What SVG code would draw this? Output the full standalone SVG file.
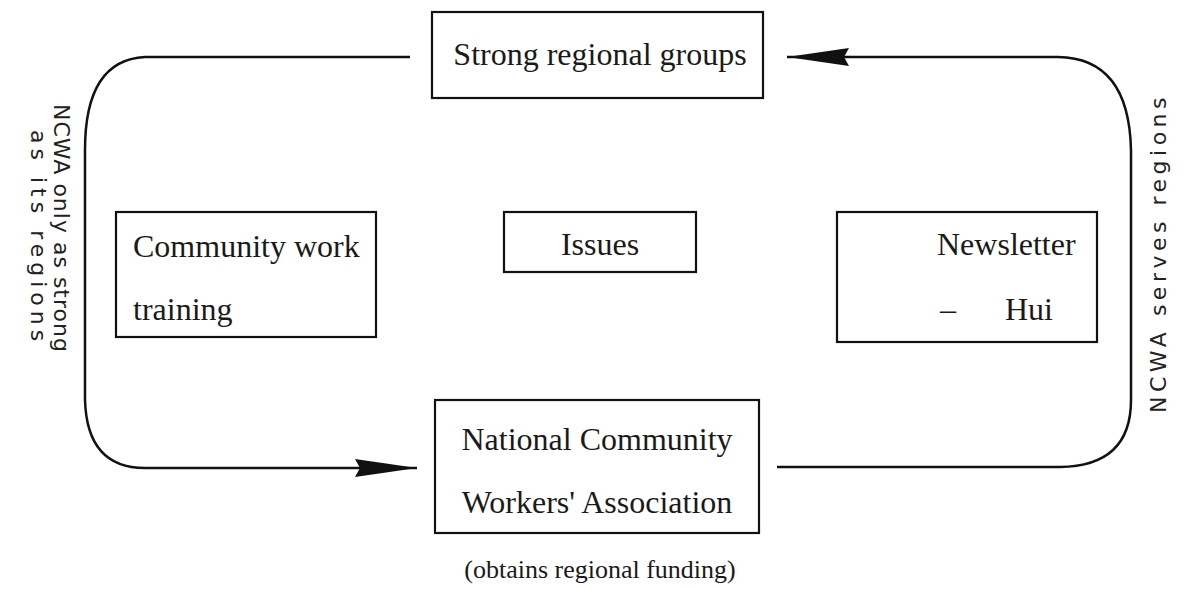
<svg xmlns="http://www.w3.org/2000/svg" width="1189" height="589" viewBox="0 0 1189 589">
<style>
  .box { fill: none; stroke: #111; stroke-width: 2.2; }
  .t { font-family: "Liberation Serif", "Times New Roman", serif; font-size: 32px; fill: #1a1a1a; }
  .small { font-size: 26px; }
  .hand { font-family: "DejaVu Sans", "Liberation Sans", sans-serif; font-size: 22px; fill: #222; letter-spacing: 2px; }
  .conn { fill: none; stroke: #111; stroke-width: 2.5; }
</style>
<defs>
  <marker id="dart" markerUnits="userSpaceOnUse" markerWidth="66" markerHeight="22" refX="62" refY="10" orient="auto">
    <path d="M0,1 L62,10 L0,19 L5,10 Z" fill="#111"/>
  </marker>
</defs>
<rect width="1189" height="589" fill="#fff"/>

<g id="connectors">
  <path class="conn" d="M410,57 L145,57 Q85,60 85,150 L85,400 Q87,468 145,468 L417,468" marker-end="url(#dart)"/>
  <path class="conn" d="M777,467 L1060,467 Q1131,466 1131,400 L1131,150 Q1129,58 1058,57 L787,57" marker-end="url(#dart)"/>
</g>

<g id="node-strong-regional-groups">
  <rect class="box" x="432" y="12" width="331" height="86"/>
  <text class="t" x="600" y="65" text-anchor="middle">Strong regional groups</text>
</g>

<g id="node-community-work-training">
  <rect class="box" x="116" y="212" width="260" height="125"/>
  <text class="t" x="133" y="257">Community work</text>
  <text class="t" x="133" y="320">training</text>
</g>

<g id="node-issues">
  <rect class="box" x="504" y="212" width="192" height="60"/>
  <text class="t" x="600" y="255" text-anchor="middle">Issues</text>
</g>

<g id="node-newsletter-hui">
  <rect class="box" x="837" y="212" width="260" height="130"/>
  <text class="t" x="937" y="255">Newsletter</text>
  <text class="t" x="940" y="320">–</text>
  <text class="t" x="1005" y="320">Hui</text>
</g>

<g id="node-ncwa">
  <rect class="box" x="435" y="400" width="324" height="133"/>
  <text class="t" x="597" y="450" text-anchor="middle">National Community</text>
  <text class="t" x="597" y="513" text-anchor="middle">Workers' Association</text>
  <text class="t small" x="600" y="578" text-anchor="middle">(obtains regional funding)</text>
</g>

<g id="label-left">
  <text class="hand" transform="translate(54,104) rotate(90)" style="letter-spacing:1px">NCWA only as strong</text>
  <text class="hand" transform="translate(31,130) rotate(90)" style="letter-spacing:5px">as its regions</text>
</g>

<g id="label-right">
  <text class="hand" transform="translate(1166,413) rotate(-90)" style="letter-spacing:4.5px">NCWA serves regions</text>
</g>
</svg>
